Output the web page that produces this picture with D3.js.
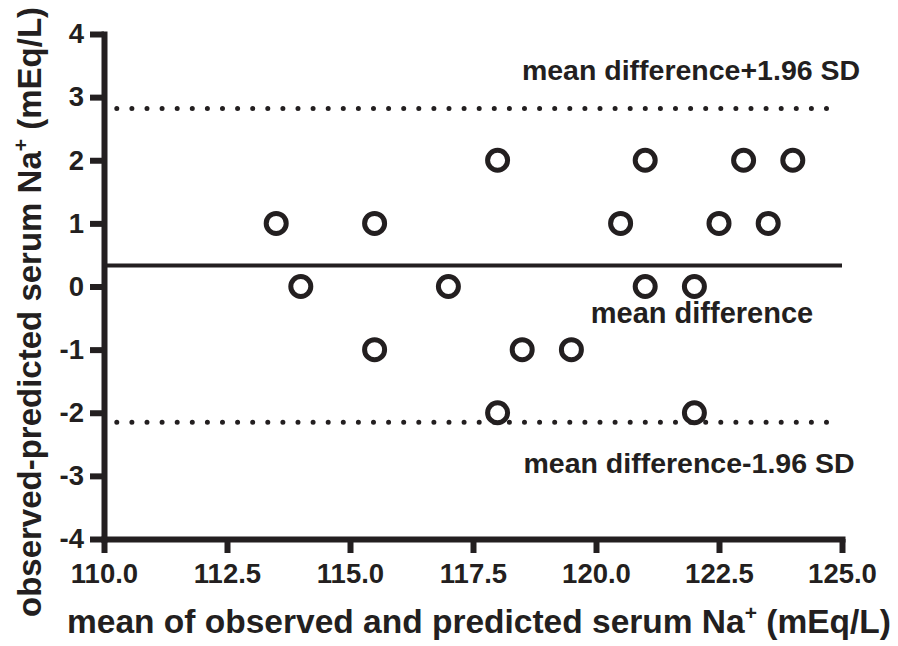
<!DOCTYPE html>
<html>
<head>
<meta charset="utf-8">
<script src="https://cdn.jsdelivr.net/npm/d3@7"></script>
<style>
  html, body { margin: 0; padding: 0; background: #fff; }
  svg { display: block; }
  text { font-family: "Liberation Sans", Arial, Helvetica, sans-serif; font-weight: bold; fill: #231f20; }
</style>
</head>
<body>
<svg id="chart" width="898" height="646"></svg>
<script>
// ---- data ----
const meanValues = [113.5, 114, 115.5, 115.5, 117, 118, 118, 118.5, 119.5, 120.5, 121, 121, 122, 122, 122.5, 123, 123.5, 124];
const diffValues = [1, 0, 1, -1, 0, 2, -2, -1, -1, 1, 2, 0, 0, -2, 1, 2, 1, 2];
const xTicks = [110, 112.5, 115, 117.5, 120, 122.5, 125];
const yTicks = [-4, -3, -2, -1, 0, 1, 2, 3, 4];
const meanDiff = 0.333;
const upperLoA = 2.82;
const lowerLoA = -2.15;
const loaSpan = [110.26, 124.72];
const labels = {
  upper: "mean difference+1.96 SD",
  mean: "mean difference",
  lower: "mean difference-1.96 SD"
};

const ink = "#231f20";
const svg = d3.select("#chart");
const x = d3.scaleLinear().domain([110, 125]).range([104, 842]);
const y = d3.scaleLinear().domain([-4, 4]).range([539, 34]);

// x axis
const gx = svg.append("g").attr("transform", `translate(0,${y(-4)})`)
  .call(d3.axisBottom(x).tickValues(xTicks).tickFormat(d3.format(".1f"))
        .tickSize(14).tickSizeOuter(0).tickPadding(10));
// y axis
const gy = svg.append("g").attr("transform", `translate(${x(110)},0)`)
  .call(d3.axisLeft(y).tickValues(yTicks).tickFormat(d3.format("d"))
        .tickSize(14).tickSizeOuter(0).tickPadding(6));

[gx, gy].forEach(g => {
  g.select(".domain").attr("stroke", ink).attr("stroke-width", 6).attr("stroke-linecap", "square");
  g.selectAll(".tick line").attr("stroke", ink).attr("stroke-width", 6);
  g.selectAll(".tick text").attr("font-size", 27.5).attr("font-family", null).attr("fill", ink);
});
gy.selectAll(".tick text").text(d => d < 0 ? "-" + Math.abs(d) : d);

// mean difference line
svg.append("line")
  .attr("x1", x(110)).attr("x2", x(125))
  .attr("y1", y(meanDiff)).attr("y2", y(meanDiff))
  .attr("stroke", ink).attr("stroke-width", 4);

// limits of agreement (dotted)
[upperLoA, lowerLoA].forEach(v => {
  svg.append("line")
    .attr("x1", x(loaSpan[0])).attr("x2", x(loaSpan[1]))
    .attr("y1", y(v)).attr("y2", y(v))
    .attr("stroke", ink).attr("stroke-width", 5)
    .attr("stroke-linecap", "round")
    .attr("stroke-dasharray", "0 15.1");
});

// points
svg.append("g").selectAll("circle")
  .data(meanValues.map((m, i) => [m, diffValues[i]]))
  .join("circle")
  .attr("cx", d => x(d[0])).attr("cy", d => y(d[1]))
  .attr("r", 10)
  .attr("fill", "#fff").attr("stroke", ink).attr("stroke-width", 5);

// annotations
svg.append("text").attr("x", 691).attr("y", y(upperLoA) - 28)
  .attr("text-anchor", "middle").attr("font-size", 28.5).text(labels.upper);
svg.append("text").attr("x", 702).attr("y", y(meanDiff) + 58)
  .attr("text-anchor", "middle").attr("font-size", 29).text(labels.mean);
svg.append("text").attr("x", 689).attr("y", y(lowerLoA) + 51)
  .attr("text-anchor", "middle").attr("font-size", 28.5).text(labels.lower);

// x title
const xt = svg.append("text").attr("x", 479).attr("y", 633)
  .attr("text-anchor", "middle").attr("font-size", 33.5);
xt.append("tspan").text("mean of observed and predicted serum Na");
xt.append("tspan").attr("font-size", 21).attr("dy", -13).text("+");
xt.append("tspan").attr("dy", 13).text(" (mEq/L)");

// y title
const yt = svg.append("text")
  .attr("transform", `translate(41,312) rotate(-90)`)
  .attr("text-anchor", "middle").attr("font-size", 33);
yt.append("tspan").text("observed-predicted serum Na");
yt.append("tspan").attr("font-size", 21).attr("dy", -13).text("+");
yt.append("tspan").attr("dy", 13).text(" (mEq/L)");
</script>
</body>
</html>
